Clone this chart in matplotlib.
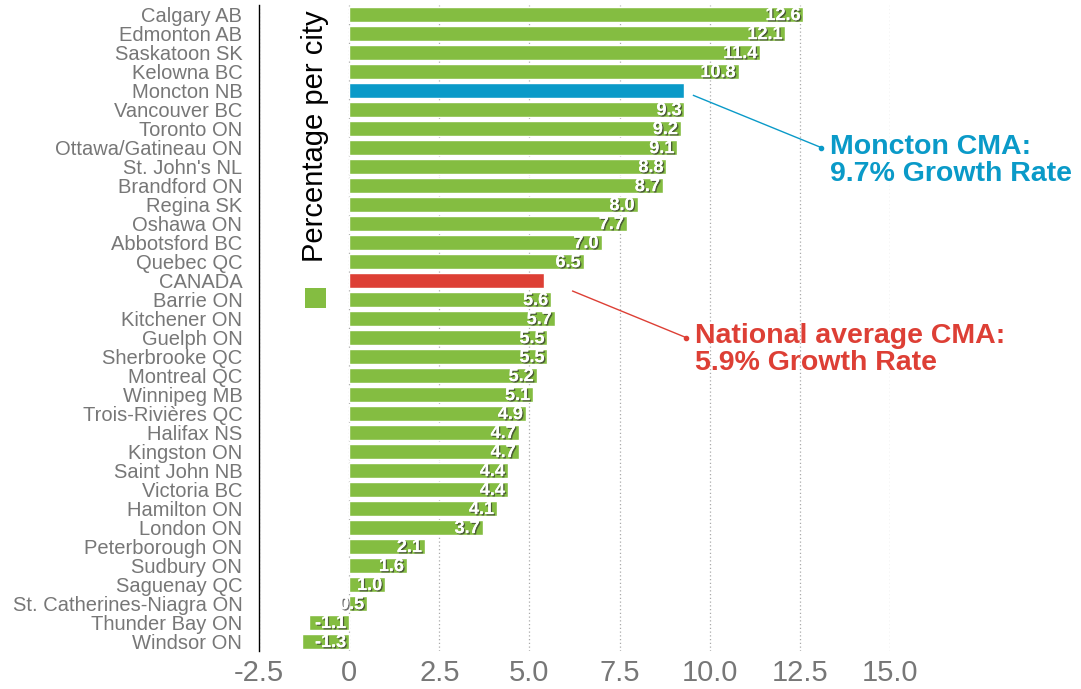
import matplotlib
matplotlib.use('Agg')
from matplotlib import pyplot as plt
from matplotlib.patches import Rectangle
import matplotlib.patheffects as pe

# city growth data (percent)
cities = ['Calgary AB', 'Edmonton AB', 'Saskatoon SK', 'Kelowna BC', 'Moncton NB',
          'Vancouver BC', 'Toronto ON', 'Ottawa/Gatineau ON', "St. John's NL",
          'Brandford ON', 'Regina SK', 'Oshawa ON', 'Abbotsford BC', 'Quebec QC',
          'CANADA', 'Barrie ON', 'Kitchener ON', 'Guelph ON', 'Sherbrooke QC',
          'Montreal QC', 'Winnipeg MB', 'Trois-Rivières QC', 'Halifax NS',
          'Kingston ON', 'Saint John NB', 'Victoria BC', 'Hamilton ON', 'London ON',
          'Peterborough ON', 'Sudbury ON', 'Saguenay QC', 'St. Catherines-Niagra ON',
          'Thunder Bay ON', 'Windsor ON']
growth = [12.6, 12.1, 11.4, 10.8, 9.3, 9.3, 9.2, 9.1, 8.8, 8.7, 8.0, 7.7, 7.0, 6.5,
          5.4, 5.6, 5.7, 5.5, 5.5, 5.2, 5.1, 4.9, 4.7, 4.7, 4.4, 4.4, 4.1, 3.7,
          2.1, 1.6, 1.0, 0.5, -1.1, -1.3]
bar_labels = ['12.6', '12.1', '11.4', '10.8', '', '9.3', '9.2', '9.1', '8.8', '8.7',
              '8.0', '7.7', '7.0', '6.5', '', '5.6', '5.7', '5.5', '5.5', '5.2', '5.1',
              '4.9', '4.7', '4.7', '4.4', '4.4', '4.1', '3.7', '2.1', '1.6', '1.0',
              '0.5', '-1.1', '-1.3']
xticks = [-2.5, 0, 2.5, 5.0, 7.5, 10.0, 12.5, 15.0]
xtick_labels = ['-2.5', '0', '2.5', '5.0', '7.5', '10.0', '12.5', '15.0']

GREEN = '#84bd41'
BLUE = '#0a9ac8'
RED = '#dd3f35'

colors = []
for c in cities:
    if c == 'Moncton NB':
        colors.append(BLUE)
    elif c == 'CANADA':
        colors.append(RED)
    else:
        colors.append(GREEN)

fig = plt.figure(figsize=(10.81, 6.89), dpi=100)
ax = fig.add_axes([0.2396, 0.055, 0.5837, 0.9375])

y = list(range(len(cities)))
ax.barh(y, growth, height=0.82, color=colors, edgecolor='white', linewidth=1, zorder=3)

# value labels inside bar ends
shadow = [pe.withSimplePatchShadow(offset=(1, -1), shadow_rgbFace='#333333', alpha=0.7),
          pe.Normal()]
for i, (v, lab) in enumerate(zip(growth, bar_labels)):
    if not lab:
        continue
    ax.text(max(v, 0) - 0.08, i + 0.05, lab, ha='right', va='center', color='white',
            fontsize=13, fontweight='bold', family='Liberation Sans', zorder=4,
            path_effects=shadow)

ax.set_xlim(-2.5, 15)
ax.set_ylim(len(cities) - 0.5, -0.5)
ax.set_yticks(y)
ax.set_yticklabels(cities, fontsize=14.5, color='#777777', family='Liberation Sans')
ax.set_xticks(xticks)
ax.set_xticklabels(xtick_labels, fontsize=21, color='#777777',
                   family=['Liberation Sans Narrow', 'Liberation Sans'])
ax.tick_params(axis='both', length=0)
ax.tick_params(axis='y', pad=12)
ax.tick_params(axis='x', pad=6)
ax.grid(axis='x', linestyle=(0, (1, 2)), color='#aaaaaa', linewidth=0.9, zorder=0)
for s in ['top', 'right', 'bottom']:
    ax.spines[s].set_visible(False)
ax.spines['left'].set_color('black')
ax.spines['left'].set_linewidth(1)

# legend: rotated title and swatch
fig.text(0.2915, 0.802, 'Percentage per city', rotation=90, ha='center', va='center',
         fontsize=21, color='black', family='Liberation Sans')
fig.add_artist(Rectangle((0.2822, 0.553), 0.0194, 0.029, transform=fig.transFigure,
                         facecolor=GREEN, edgecolor='none'))

# callouts
ax.plot([9.55, 13.1], [4.25, 7.0], color=BLUE, lw=1, clip_on=False, zorder=5)
ax.plot([13.1], [7.0], 'o', color=BLUE, ms=3, clip_on=False, zorder=5)
ax.text(13.35, 7.65, 'Moncton CMA:\n9.7% Growth Rate', color=BLUE, fontsize=20.5,
        fontweight='bold', family='Liberation Sans', ha='left', va='center',
        linespacing=1.05, clip_on=False)

ax.plot([6.2, 9.35], [14.55, 17.0], color=RED, lw=1, clip_on=False, zorder=5)
ax.plot([9.35], [17.0], 'o', color=RED, ms=3, clip_on=False, zorder=5)
ax.text(9.6, 17.6, 'National average CMA:\n5.9% Growth Rate', color=RED, fontsize=20.5,
        fontweight='bold', family='Liberation Sans', ha='left', va='center',
        linespacing=1.05, clip_on=False)

fig.savefig('out.png', dpi=100)
